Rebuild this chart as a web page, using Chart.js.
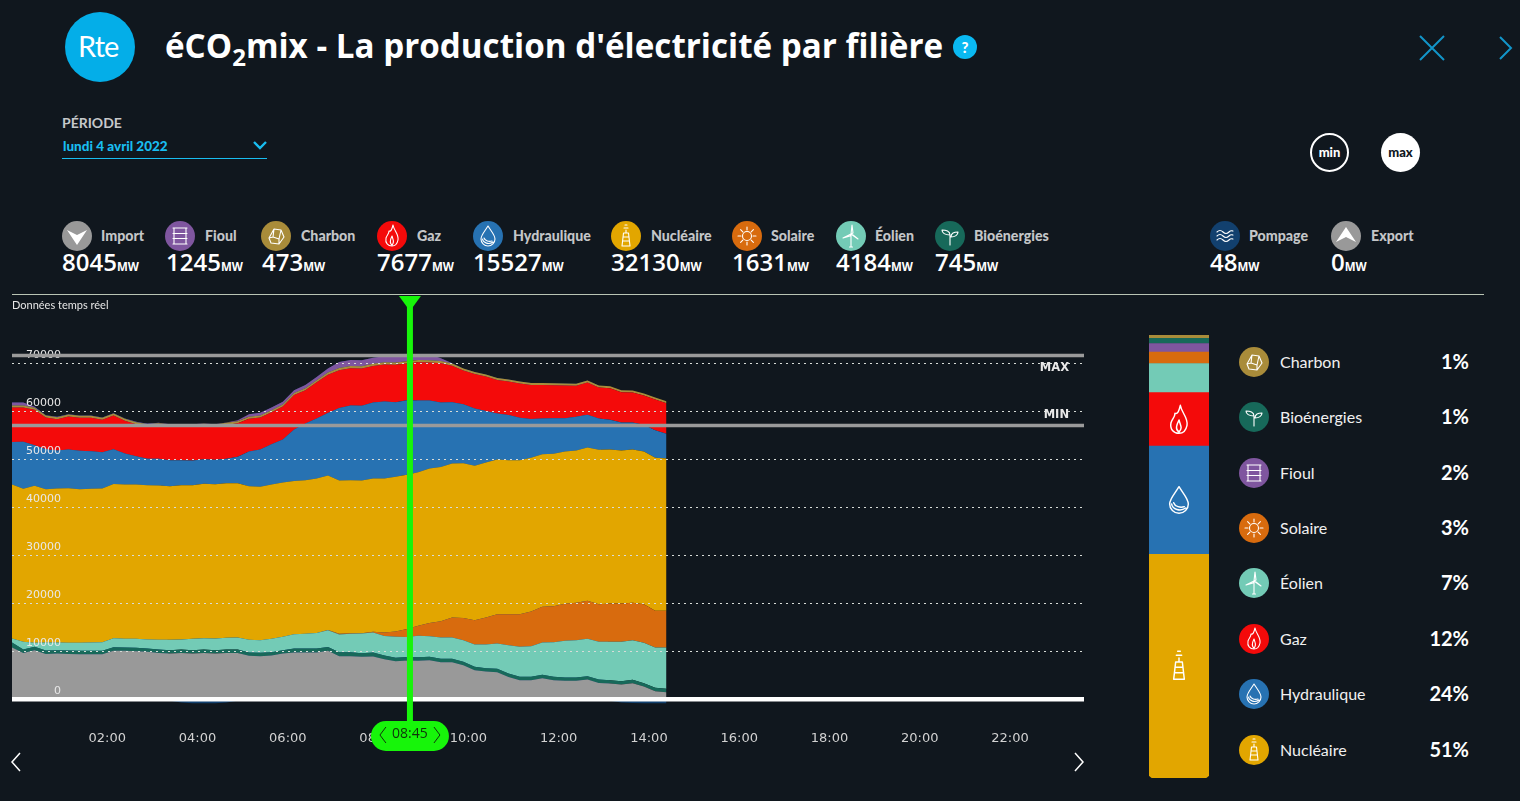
<!DOCTYPE html>
<html lang="fr">
<head>
<meta charset="utf-8">
<title>éCO2mix</title>
<script src="https://cdn.jsdelivr.net/npm/chart.js@4"></script>
<style>
  html, body { margin: 0; padding: 0; background: #10171e; overflow: hidden; }
  body { width: 1520px; height: 801px; position: relative; color: #fff; font-family: Lato, sans-serif; }
  .abs { position: absolute; white-space: nowrap; }
  .abs svg { display: block; }
  svg .s { fill: none; stroke: #fff; stroke-width: 1.1; stroke-linejoin: round; stroke-linecap: round; }
  svg .f { fill: #fff; }
  #flow { left: 12px; top: 296px; }
  #mix { left: 1149px; top: 335px; }
</style>
</head>
<body>
<canvas id="flow" class="abs" width="1072" height="458"></canvas>
<canvas id="mix" class="abs" width="60" height="443"></canvas>
<script>
// one point every 15 minutes
const importMW = [10760,9650,10210,9440,9510,9440,9370,9370,9370,10070,10070,10000,9860,9650,9510,9650,9510,9650,9510,9650,9650,9030,8960,9100,9510,9720,9720,9720,10070,8960,8960,8820,8890,8330,7920,8045,7990,8120,7710,7710,7080,6040,5760,5620,4650,3960,3960,4370,3960,3820,3820,4100,3400,3260,3060,3330,2640,1670,1460];
const bioMW = [1040,700,700,700,700,700,700,700,700,760,700,700,700,700,700,700,700,700,700,700,700,700,700,700,700,830,830,830,830,830,830,760,830,760,700,745,770,700,700,700,700,700,700,700,700,700,700,700,700,700,700,700,700,700,700,700,700,700,700];
const windMW = [830,1600,830,1670,1600,1600,1670,1740,1810,1870,1810,1870,1870,2010,2150,2080,2360,2360,2430,2430,2500,2640,2640,2780,2780,2990,3060,3260,3470,3680,3820,4100,4170,4100,4370,4184,4440,4300,4440,4440,4510,4650,4930,5280,5900,6250,6390,6740,7220,7640,7780,7780,7850,7990,8190,8260,8400,8400,8610];
const solarMW = [0,0,0,0,0,0,0,0,0,0,0,0,0,0,0,0,0,0,0,0,0,0,0,0,0,0,0,0,70,140,140,70,140,690,1110,1631,2080,2780,3400,4170,4650,5070,5620,6110,6460,6800,7220,7430,7500,7710,7780,7920,7850,7990,7990,7780,8060,7640,7640];
const nuclearMW = [32080,31870,32710,31940,32080,32220,32010,32010,32010,32150,32150,32150,32150,32150,32010,32150,32010,32150,32150,32220,32150,32010,31940,32150,32150,31940,32010,32150,32150,31940,31870,31800,31940,32080,32220,32130,32010,32150,32150,32080,32220,32150,32290,32220,32080,32080,32010,31800,31730,31730,31730,31940,32150,32080,31870,31940,31800,31870,31730];
const hydroMW = [8890,9790,8470,8330,7920,8060,7990,7850,7570,7220,6460,5900,5490,5560,5420,5210,5140,5140,5070,5070,5490,7220,7780,8400,8960,10690,11810,12500,13060,15140,15560,15560,15830,16040,15560,15527,14930,14170,13400,12780,12290,11940,10760,9580,9440,8820,8120,7430,7430,6940,7010,6810,6530,6180,5830,5620,5560,5760,5140];
const gasMW = [7150,7150,7360,6600,6530,6870,6870,6940,6740,7010,6810,6670,6810,7010,7010,7010,7080,6940,6940,7080,7010,6810,6670,6670,6870,7220,6940,7570,7920,7850,7780,7780,7640,7710,7780,7677,7990,7920,8190,7570,7010,7220,7150,7010,6940,7150,7080,7010,6870,6810,6460,6740,6460,6600,6320,6250,6110,6390,6390];
const coalMW = [420,420,420,420,420,420,420,420,420,420,420,420,420,420,420,420,420,420,420,420,420,420,420,420,420,420,420,420,470,470,470,470,470,470,470,473,470,470,470,470,420,420,420,420,420,420,420,420,420,420,420,420,420,420,420,420,420,420,420];
const fuelMW = [625,625,210,70,70,70,70,70,70,70,70,70,70,70,70,70,70,70,70,70,210,555,555,555,555,555,690,690,830,1245,1245,1245,1245,1245,1245,1245,1245,1245,555,70,0,0,0,0,0,0,0,0,0,0,0,0,0,0,0,0,0,0,0];
const pumpMW = [0,0,0,0,0,0,0,0,0,0,0,0,0,0,-300,-700,-850,-850,-850,-700,-300,0,0,0,0,0,0,0,0,0,0,0,0,0,0,-48,0,0,0,0,0,0,0,0,0,0,0,0,0,0,0,0,0,-300,-700,-800,-850,-850,-850];

const yTicks = [0,10000,20000,30000,40000,50000,60000,70000];
const hourTicks = ['02:00','04:00','06:00','08:00','10:00','12:00','14:00','16:00','18:00','20:00','22:00'];
const maxLine = 71600, minLine = 57000;
const cursorIndex = 35;

// legend row over the chart, at the cursor time
const topNames = ['Import','Fioul','Charbon','Gaz','Hydraulique','Nucléaire','Solaire','Éolien','Bioénergies','Pompage','Export'];
const topValues = [8045,1245,473,7677,15527,32130,1631,4184,745,48,0];
// share bar and list on the right
const mixNames = ['Charbon','Bioénergies','Fioul','Solaire','Éolien','Gaz','Hydraulique','Nucléaire'];
const mixValues = [473,745,1245,1631,4184,7677,15527,32130];
const mixPercent = ['1%','1%','2%','3%','7%','12%','24%','51%'];

const colors = {
  Import: '#999999', Fioul: '#7f569f', Charbon: '#a98c3a', Gaz: '#f40a0a', Hydraulique: '#2772b2',
  'Nucléaire': '#e2a600', Solaire: '#d86b0e', 'Éolien': '#73cbb6', 'Bioénergies': '#17695a',
  Pompage: '#12406e', Export: '#999999'
};
const icons = {
  Import: '<path class="f" d="M5 9 L15 14 L25 9 L15 24 Z"/>',
  Export: '<path class="f" d="M5 21 L15 16 L25 21 L15 6 Z"/>',
  Fioul: '<path class="s" d="M9 7 V23 M21 7 V23 M8 7 H22 M8 23 H22 M9 12.5 H21 M9 17.5 H21 M8 12.5 H22 M8 17.5 H22" stroke-width="1.4"/>',
  Charbon: '<path class="s" d="M8 17 L13 8 L20 9 L23 16 L18 23 L10 22 Z M13 8 L12 16 L8 17 M12 16 L18 18 L18 23 M18 18 L20 9"/>',
  Gaz: '<path class="s" d="M16 4 C17 10 22 13 21 19 C20 24 17 25 15 25 C11 25 8 22 9 17 C10 14 12 13 12 10 C14 11 15 8 16 4 Z M15 24 C12 22 13 19 15 15 C16 19 18 21 15 24"/>',
  Hydraulique: '<path class="s" d="M15 5 C18 10 22 14 22 18 A7 7 0 0 1 8 18 C8 14 12 10 15 5 Z M9.5 18 C10 22 16 24 20 21 M11 17 C12 20 16 21 19 20"/>',
  'Nucléaire': '<path class="s" d="M11 25 L12.5 12 H17.5 L19 25 Z M12 16 H18 M11.5 20 H18.5 M15 12 V9 M13 7 H17 M14 4 H16"/>',
  Solaire: '<circle class="s" cx="15" cy="15" r="4.5"/><path class="s" d="M15 6 V9 M15 21 V24 M6 15 H9 M21 15 H24 M8.6 8.6 L10.8 10.8 M19.2 19.2 L21.4 21.4 M8.6 21.4 L10.8 19.2 M19.2 10.8 L21.4 8.6"/>',
  'Éolien': '<path class="s" d="M15 13 V26 M13.5 26 H16.5 M15 13 L16 4 L17 12 Z M15 13 L7 17 L14 15 Z M15 13 L22 18 L17 14 Z"/>',
  'Bioénergies': '<path class="s" d="M15 24 V14 M15 14 C15 10 11 9 7 9 C7 12 10 14 15 14 M16 16 C16 12 19 11 23 11 C23 14 20 16 16 16"/>',
  Pompage: '<path class="s" d="M7 11 C9 9 11 9 13 11 S17 13 19 11 S22 10 23 10 M7 15 C9 13 11 13 13 15 S17 17 19 15 S22 14 23 14 M7 19 C9 17 11 17 13 19 S17 21 19 19 S22 18 23 18"/>'
};

const pos = (html, style) => {
  const d = document.createElement('div');
  d.className = 'abs';
  d.style.cssText = style;
  d.innerHTML = html;
  document.body.appendChild(d);
  return d;
};
const svg = (name) => '<svg viewBox="0 0 30 30" width="100%" height="100%">' + icons[name] + '</svg>';
const badge = (name, cx, cy, r) => {
  pos(svg(name), 'left:' + (cx - r) + 'px;top:' + (cy - r) + 'px;width:' + (2 * r) + 'px;height:' + (2 * r) + 'px;border-radius:50%;background:' + colors[name]);
};

// header
pos('', 'left:65px;top:12px;width:70px;height:70px;border-radius:50%;background:#04aee8');
pos('Rte', 'left:78px;top:28px;font:400 29px Lato;letter-spacing:-1px');
pos('éCO<sub style="font-size:24px;vertical-align:-8px;line-height:0">2</sub>mix - La production d\'électricité par filière', 'left:165px;top:23px;font:700 33.2px "Open Sans";color:#fff');
pos('?', 'left:953px;top:35px;width:24px;height:24px;border-radius:50%;background:#0ab9f2;font:900 15px/24px Lato;text-align:center');
pos('<svg width="30" height="30" viewBox="0 0 30 30"><path d="M3 3 L27 27 M27 3 L3 27" stroke="#1295c9" stroke-width="2" fill="none"/></svg>', 'left:1417px;top:33px');
pos('<svg width="16" height="26" viewBox="0 0 16 26"><path d="M2 2 L13 13 L2 24" stroke="#1295c9" stroke-width="2" fill="none"/></svg>', 'left:1498px;top:35px');
pos('PÉRIODE', 'left:62px;top:114px;font:700 14px Lato;color:#c6c8ca');
pos('lundi 4 avril 2022', 'left:63px;top:138px;font:900 13.5px Lato;color:#19bdf0');
pos('', 'left:62px;top:158px;width:205px;height:1px;background:#19bdf0');
pos('<svg width="14" height="9" viewBox="0 0 14 9"><path d="M1 1 L7 7 L13 1" stroke="#19bdf0" stroke-width="2.4" fill="none"/></svg>', 'left:253px;top:141px');
pos('min', 'left:1310px;top:133px;width:35px;height:35px;border-radius:50%;border:2px solid #fff;font:900 13px/35px Lato;text-align:center');
pos('max', 'left:1381px;top:133px;width:39px;height:39px;border-radius:50%;background:#fff;color:#10171e;font:900 13px/38px Lato;text-align:center');

// legend row
const topIconX = [77,180,276,392,488,626,747,851,950,1225,1346];
const topTextX = [101,205,301,417,513,651,771,875,974,1249,1371];
const topValueX = [62,166,262,377,473,611,732,836,935,1210,1331];
topNames.forEach((name, i) => {
  badge(name, topIconX[i], 236, 15);
  pos(name, 'left:' + topTextX[i] + 'px;top:227px;font:900 14.2px Lato;color:#c4c6c8');
  pos(topValues[i] + '<span style="font-size:11.5px;font-weight:700">MW</span>', 'left:' + topValueX[i] + 'px;top:247px;font:600 24px "Open Sans";line-height:30px;color:#fff');
});
pos('', 'left:12px;top:294px;width:1472px;height:1px;background:#b9c4b4');
pos('Données temps réel', 'left:12px;top:298px;font:400 11px Lato;color:#e6e6e6');

// right list
const listY = [362,417,473,528,583,639,694,750];
mixNames.forEach((name, i) => {
  badge(name, 1254, listY[i], 15);
  pos(name, 'left:1280px;top:' + (listY[i] - 10) + 'px;font:400 16px Lato;color:#f0f0f0');
  pos(mixPercent[i], 'right:51px;top:' + (listY[i] - 13) + 'px;font:700 20px Lato;color:#fff');
});
pos(svg('Gaz'), 'left:1159px;top:400px;width:40px;height:40px');
pos(svg('Hydraulique'), 'left:1159px;top:480px;width:40px;height:40px');
pos(svg('Nucléaire'), 'left:1159px;top:646px;width:40px;height:40px');

// scroll arrows
pos('<svg width="12" height="20" viewBox="0 0 12 20"><path d="M10 1 L2 10 L10 19" stroke="#fff" stroke-width="1.5" fill="none"/></svg>', 'left:10px;top:752px');
pos('<svg width="12" height="20" viewBox="0 0 12 20"><path d="M2 1 L10 10 L2 19" stroke="#fff" stroke-width="1.5" fill="none"/></svg>', 'left:1073px;top:752px');

// every quarter hour of the day, only the even hours get a label
const quarters = [];
for (let h = 0; h < 24; h++) {
  for (let m = 0; m < 60; m += 15) {
    quarters.push(String(h).padStart(2, '0') + ':' + String(m).padStart(2, '0'));
  }
}

const area = (label, data, color, fill) => ({
  label, data, fill, backgroundColor: color, borderColor: color, borderWidth: 0, pointRadius: 0, tension: 0
});

const overlay = {
  id: 'overlay',
  afterDraw(chart) {
    const { ctx, scales: { x, y }, chartArea } = chart;
    const hline = (v, color, w) => {
      ctx.strokeStyle = color;
      ctx.lineWidth = w;
      ctx.beginPath();
      ctx.moveTo(chartArea.left, y.getPixelForValue(v));
      ctx.lineTo(chartArea.right, y.getPixelForValue(v));
      ctx.stroke();
    };
    ctx.save();
    hline(maxLine, '#9a9a9a', 3.5);
    hline(minLine, '#9a9a9a', 3.5);
    hline(0, '#ffffff', 4.5);
    ctx.font = 'bold 11.5px "DejaVu Sans"';
    ctx.fillStyle = '#e8e8e8';
    ctx.textAlign = 'right';
    ctx.textBaseline = 'middle';
    ctx.fillText('MAX', 1057, y.getPixelForValue(maxLine) + 12);
    ctx.fillText('MIN', 1057, y.getPixelForValue(minLine) - 11);

    // cursor
    const cx = x.getPixelForValue(cursorIndex) + 3;
    ctx.strokeStyle = '#17f50a';
    ctx.lineWidth = 6;
    ctx.beginPath();
    ctx.moveTo(cx, 0);
    ctx.lineTo(cx, 426);
    ctx.stroke();
    ctx.fillStyle = '#17f50a';
    ctx.beginPath();
    ctx.moveTo(cx - 11, 0);
    ctx.lineTo(cx + 11, 0);
    ctx.lineTo(cx, 15);
    ctx.closePath();
    ctx.fill();
    ctx.beginPath();
    ctx.roundRect(cx - 39, 425, 78, 30, 15);
    ctx.fill();
    ctx.fillStyle = '#10330c';
    ctx.strokeStyle = '#10330c';
    ctx.lineWidth = 1;
    ctx.font = '14px "Open Sans"';
    ctx.textAlign = 'center';
    ctx.fillText(quarters[cursorIndex], cx, 438);
    ctx.beginPath();
    ctx.moveTo(cx - 24, 431);
    ctx.lineTo(cx - 30, 439);
    ctx.lineTo(cx - 24, 447);
    ctx.moveTo(cx + 24, 431);
    ctx.lineTo(cx + 30, 439);
    ctx.lineTo(cx + 24, 447);
    ctx.stroke();
    ctx.restore();
  }
};

new Chart('flow', {
  type: 'line',
  data: {
    labels: quarters,
    datasets: [
      area('Import', importMW, colors.Import, 'origin'),
      area('Bioénergies', bioMW, colors['Bioénergies'], '-1'),
      area('Éolien', windMW, colors['Éolien'], '-1'),
      area('Solaire', solarMW, colors.Solaire, '-1'),
      area('Nucléaire', nuclearMW, colors['Nucléaire'], '-1'),
      area('Hydraulique', hydroMW, colors.Hydraulique, '-1'),
      area('Gaz', gasMW, colors.Gaz, '-1'),
      area('Charbon', coalMW, colors.Charbon, '-1'),
      area('Fioul', fuelMW, colors.Fioul, '-1'),
      area('Pompage', pumpMW, colors.Pompage, 'origin')
    ]
  },
  options: {
    responsive: false,
    animation: false,
    layout: { padding: 0, autoPadding: false },
    plugins: { legend: { display: false }, tooltip: { enabled: false } },
    scales: {
      x: {
        afterFit(scale) {
          scale.height = 50;
          scale.paddingLeft = 0;
          scale.paddingRight = 0;
        },
        border: { display: false },
        grid: { display: false, drawTicks: false },
        ticks: {
          autoSkip: false,
          maxRotation: 0,
          padding: 27,
          labelOffset: 5,
          color: '#d2d2d2',
          font: { family: 'DejaVu Sans', size: 13 },
          callback(v) {
            const t = this.getLabelForValue(v);
            return hourTicks.includes(t) ? t : '';
          }
        }
      },
      y: {
        stacked: true,
        min: -1000,
        max: 84000,
        afterBuildTicks(scale) {
          scale.ticks = yTicks.map(v => ({ value: v }));
        },
        afterFit(scale) {
          scale.width = 0;
          scale.paddingTop = 0;
          scale.paddingBottom = 0;
        },
        border: { display: false, dash: [2, 4] },
        grid: { z: 1, drawTicks: false, color: '#d8dcd8', lineWidth: 1 },
        ticks: {
          z: 1,
          mirror: true,
          padding: 14,
          labelOffset: -8,
          color: '#e8e8e8',
          font: { family: 'DejaVu Sans', size: 11 },
          callback(v) { return String(v).padStart(5, '\u2007'); }
        }
      }
    }
  },
  plugins: [overlay]
});

const mixBar = (name, i) => ({
  label: name,
  data: [mixValues[i]],
  backgroundColor: colors[name],
  borderWidth: 0,
  barPercentage: 1,
  categoryPercentage: 1,
  borderSkipped: false,
  borderRadius: name === 'Nucléaire' ? { bottomLeft: 5, bottomRight: 5, topLeft: 0, topRight: 0 } : 0
});

new Chart('mix', {
  type: 'bar',
  data: {
    labels: ['mix'],
    datasets: mixNames.map(mixBar).reverse()
  },
  options: {
    responsive: false,
    animation: false,
    layout: { padding: 0 },
    plugins: { legend: { display: false }, tooltip: { enabled: false } },
    scales: {
      x: { display: false, stacked: true },
      y: { display: false, stacked: true, min: 0, max: mixValues.reduce((a, b) => a + b, 0) }
    }
  }
});
</script>
</body>
</html>
